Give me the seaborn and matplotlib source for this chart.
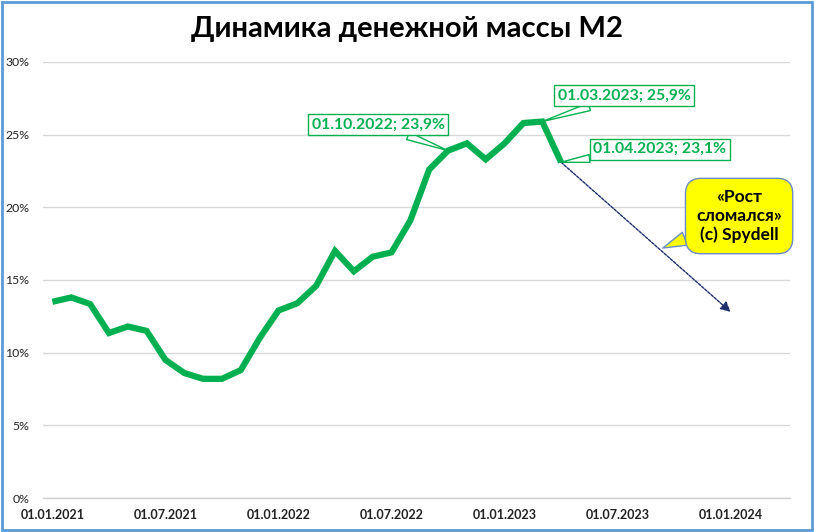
import matplotlib
matplotlib.use("Agg")
import matplotlib.pyplot as plt
import matplotlib.patches as mpatches
import seaborn as sns
import pandas as pd
import numpy as np

# ---- data ----
months = ["01.01.2021", "01.02.2021", "01.03.2021", "01.04.2021", "01.05.2021", "01.06.2021",
          "01.07.2021", "01.08.2021", "01.09.2021", "01.10.2021", "01.11.2021", "01.12.2021",
          "01.01.2022", "01.02.2022", "01.03.2022", "01.04.2022", "01.05.2022", "01.06.2022",
          "01.07.2022", "01.08.2022", "01.09.2022", "01.10.2022", "01.11.2022", "01.12.2022",
          "01.01.2023", "01.02.2023", "01.03.2023", "01.04.2023"]
m2_growth = [13.5, 13.8, 13.35, 11.35, 11.8, 11.5,
             9.5, 8.6, 8.2, 8.2, 8.8, 11.0,
             12.9, 13.4, 14.6, 17.0, 15.6, 16.6,
             16.9, 19.1, 22.6, 23.9, 24.4, 23.3,
             24.4, 25.8, 25.9, 23.1]
tick_labels = ["01.01.2021", "01.07.2021", "01.01.2022", "01.07.2022",
               "01.01.2023", "01.07.2023", "01.01.2024"]
tick_idx = [0, 6, 12, 18, 24, 30, 36]
y_ticks = [0, 5, 10, 15, 20, 25, 30]

GREEN = "#00B050"
NAVY = "#1F2F6E"

sns.set_style("white")
plt.rcParams["font.family"] = ["Lato", "DejaVu Sans"]

df = pd.DataFrame({"idx": np.arange(len(months)), "value": m2_growth, "date": months})

fig = plt.figure(figsize=(8.14, 5.32), dpi=100)
ax = fig.add_axes([0.0528, 0.0639, 0.9705 - 0.0528, 0.8835 - 0.0639])

sns.lineplot(data=df, x="idx", y="value", color=GREEN, lw=4.5, ax=ax,
             solid_joinstyle="miter", solid_capstyle="butt")

ax.set_xlim(-0.5, 39.15)
ax.set_ylim(0, 30)
ax.set_xlabel("")
ax.set_ylabel("")

# grid
ax.set_yticks(y_ticks)
ax.set_yticklabels([f"{v}%" for v in y_ticks], fontsize=8.8, color="#222222")
ax.yaxis.grid(True, color="#D9D9D9", lw=1)
ax.xaxis.grid(False)
ax.tick_params(axis="y", length=0, pad=10)

ax.set_xticks(tick_idx)
ax.set_xticklabels(tick_labels, fontsize=9, fontweight="bold", color="#222222")
ax.set_xticks([i - 0.5 for i in tick_idx], minor=True)
ax.tick_params(axis="x", which="major", length=0, pad=8)
ax.tick_params(axis="x", which="minor", length=4, color="#BFBFBF", width=1)

for s in ["top", "right", "left"]:
    ax.spines[s].set_visible(False)
ax.spines["bottom"].set_color("#D0D0D0")
ax.spines["bottom"].set_linewidth(1)
ax.set_axisbelow(True)

# title
fig.text(0.5, 0.945, "Динамика денежной массы М2", ha="center", va="center",
         fontsize=21, fontweight="bold", color="black")

# green callouts
box_kw = dict(boxstyle="square,pad=0.22", fc="white", ec=GREEN, lw=1)

def callout(text, point_i, xytext):
    ax.annotate(text, xy=(point_i, m2_growth[point_i]), xytext=xytext,
                ha="center", va="center", fontsize=11.3, fontweight="bold", color=GREEN,
                bbox=box_kw,
                arrowprops=dict(arrowstyle="wedge,tail_width=0.5,shrink_factor=0.5",
                                fc="white", ec=GREEN, lw=1, shrinkA=0, shrinkB=0),
                zorder=5)

callout("01.10.2022; 23,9%", 21, (17.3, 25.67))
callout("01.03.2023; 25,9%", 26, (30.35, 27.67))
callout("01.04.2023; 23,1%", 27, (32.25, 24.0))

# dashed trend arrow
ax.annotate("", xy=(36.0, 12.8), xytext=(27, m2_growth[-1]),
            arrowprops=dict(arrowstyle="-|>,head_length=0.6,head_width=0.3",
                            color=NAVY, lw=1, ls=(0, (2, 1)),
                            shrinkA=0, shrinkB=0, mutation_scale=10),
            zorder=3)

# yellow callout
ax.annotate("«Рост\nсломался»\n(c) Spydell", xy=(32.4, 17.2), xytext=(36.45, 19.4),
            ha="center", va="center", fontsize=12.5, fontweight="bold", color="black",
            linespacing=1.2,
            bbox=dict(boxstyle="round,pad=0.62,rounding_size=0.9", fc="#FFFF00",
                      ec="#6A8CC7", lw=1),
            arrowprops=dict(arrowstyle="wedge,tail_width=0.8,shrink_factor=0.5",
                            fc="#FFFF00", ec="#6A8CC7", lw=1, shrinkA=0, shrinkB=0),
            zorder=6)

# figure border
fig.patches.append(mpatches.Rectangle((0.002, 0.003), 0.996, 0.994, transform=fig.transFigure,
                                      fill=False, ec="#5B9BD5", lw=2))

fig.savefig("out.png", dpi=100)
